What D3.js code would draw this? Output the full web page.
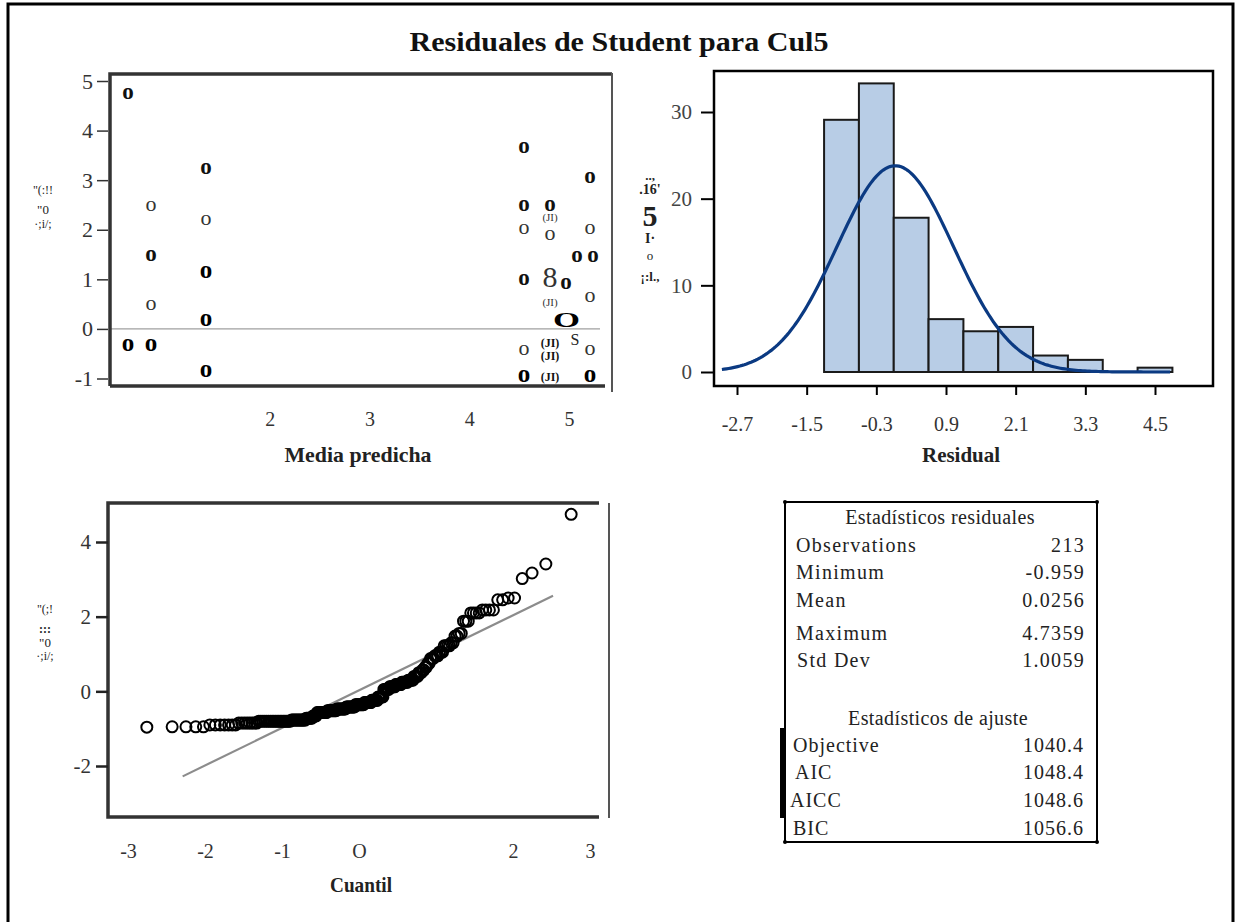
<!DOCTYPE html>
<html><head><meta charset="utf-8">
<script src="https://cdn.jsdelivr.net/npm/d3@7"></script>
<style>
body{margin:0;background:#fff}
svg text{font-family:"Liberation Serif","Times New Roman",serif}
</style></head><body>
<svg id="chart" width="1235" height="922"></svg>
<script>
// ---------------- data ----------------
const chartTitle = "Residuales de Student para Cul5";

// residual vs predicted mean
const predTicks = [2, 3, 4, 5];
const residTicks = [5, 4, 3, 2, 1, 0, -1];
const fitHeavy = [[0.58,4.74],[0.81,1.47],[1.36,3.22],[4.55,3.65],[4.55,2.48],[4.81,2.48],[4.55,0.98],[4.97,0.90],
  [5.08,1.45],[5.24,1.45],[5.21,3.04]];
const fitBlack = [[0.58,-0.32],[0.81,-0.32],[1.36,1.14],[1.36,0.18],[1.36,-0.85],[4.55,-0.94],[5.21,-0.94]];
const fitLight = [[0.81,2.48],[0.81,0.49],[1.36,2.19],[4.55,2.02],[4.81,1.90],[5.21,2.02],[5.21,0.64],[4.55,-0.42],[5.21,-0.42]];
const fitStacked = [[4.81,1.05,"8"]];
const fitWide = [[4.97,0.18,"O"]];
const fitTags = [[4.81,2.25,"(JI)"],[4.81,0.55,"(JI)"]];
const fitTagsBold = [[4.81,-0.26,"(JI)"],[4.81,-0.53,"(JI)"],[4.81,-0.94,"(JI)"]];
const fitTagsSans = [[5.06,-0.2,"S"]];
const residAxisGlyphs = ['"(:!!', '"0', '·;i/;'];

// histogram of residuals (percent per bin)
const binEdges = [-1.2,-0.6,0,0.6,1.2,1.8,2.4,3.0,3.6,4.2,4.8];
const binPercent = [29.1,33.3,17.8,6.1,4.7,5.2,1.9,1.4,0,0.5];
const histTicks = [-2.7,-1.5,-0.3,0.9,2.1,3.3,4.5];
const pctTicks = [0,10,20,30];
const curveRange = [-2.96, 4.76];
const pctAxisGlyphs = ["..,", ".16'", "5", "I·", "o", "¡:l.,"];

// summary tables
const residStatNames = ["Observations","Minimum","Mean","Maximum","Std Dev"];
const residStatValues = ["213","-0.959","0.0256","4.7359","1.0059"];
const fitStatNames = ["Objective","AIC","AICC","BIC"];
const fitStatValues = ["1040.4","1048.4","1048.6","1056.6"];

// sorted residuals for the normal quantile plot: [value, count]
const qqRuns = [[-0.959,1],[-0.95,4],[-0.90,7],[-0.85,8],[-0.80,20],[-0.77,12],[-0.72,6],[-0.66,4],
  [-0.57,10],[-0.52,10],[-0.47,10],[-0.42,10],[-0.36,10],[-0.30,8],[-0.24,7],[-0.15,6],
  [0.05,6],[0.12,6],[0.18,6],[0.24,6],[0.30,5],[0.40,4],[0.50,3],[0.57,2],
  [0.65,2],[0.75,2],[0.88,3],[0.95,3],[1.05,3],
  [1.22,4],[1.30,2],[1.48,2],[1.55,2],
  [1.88,3],[2.10,4],[2.18,4],
  [2.45,2],[2.50,2],[3.02,1],[3.17,1],[3.41,1],[4.74,1]];
const qqTicksY = [4, 2, 0, -2];
const qqTicksX = [-3, -2, -1, 0, 2, 3];
const qqTickLabels = ["-3","-2","-1","O","2","3"];
const qqAxisGlyphs = ['"(;!', ':::', '"0', '·;i/;'];

// ---------------- drawing ----------------
const svg = d3.select("#chart");
const meanRes = +residStatValues[2], sdRes = +residStatValues[4];
const plain = d => String(d);   // tick text with an ASCII hyphen for negatives

// outer frame
svg.append("path").attr("d","M8,922V4H1233V922").attr("fill","none").attr("stroke","#000").attr("stroke-width",3);

svg.append("text").attr("x",619).attr("y",51).attr("text-anchor","middle")
  .attr("font-size",27).attr("font-weight","bold").attr("fill","#111")
  .attr("textLength",419).attr("lengthAdjust","spacingAndGlyphs").text(chartTitle);

function glyphColumn(list, x, ys, size, weights){
  list.forEach((t,i)=>svg.append("text").attr("x",x).attr("y",ys[i]).attr("text-anchor","middle")
    .attr("font-size",size[i]).attr("font-weight",weights[i]).attr("fill","#222").text(t));
}

// ---------- panel 1: residual vs predicted ----------
{
  const x = d3.scaleLinear().domain([1,5]).range([170,569]);
  const y = d3.scaleLinear().domain([-1,5]).range([378.5,81]);
  const g = svg.append("g");
  g.append("line").attr("x1",110).attr("x2",600).attr("y1",y(0)).attr("y2",y(0)).attr("stroke","#888").attr("stroke-width",1);
  // frame
  g.append("path").attr("d","M110,386V74H612").attr("fill","none").attr("stroke","#333").attr("stroke-width",3.5);
  g.append("line").attr("x1",110).attr("x2",605).attr("y1",386).attr("y2",386).attr("stroke","#333").attr("stroke-width",3.5);
  g.append("line").attr("x1",612).attr("x2",612).attr("y1",73).attr("y2",392).attr("stroke","#555").attr("stroke-width",2);

  const ya = g.append("g").attr("transform","translate(108,0)")
    .call(d3.axisLeft(y).tickValues(residTicks).tickSize(11).tickPadding(4).tickFormat(plain));
  ya.select(".domain").remove();
  ya.selectAll("line").attr("stroke","#333").attr("stroke-width",1.5);
  ya.selectAll("text").attr("font-size",22).attr("fill","#333").attr("font-family","Liberation Serif");

  const xa = g.append("g").attr("transform","translate(0,409)")
    .call(d3.axisBottom(x).tickValues(predTicks).tickSize(0).tickFormat(plain));
  xa.select(".domain").remove();
  xa.selectAll("text").attr("font-size",20).attr("fill","#333").attr("font-family","Liberation Serif");

  g.append("text").attr("x",358).attr("y",462).attr("text-anchor","middle").attr("font-size",21)
    .attr("font-weight","bold").attr("fill","#222").attr("textLength",147).attr("lengthAdjust","spacingAndGlyphs").text("Media predicha");

  glyphColumn(residAxisGlyphs, 43, [194,214,228], [12,13,12], ["normal","normal","normal"]);

  g.selectAll(".hv").data(fitHeavy).join("text").attr("x",d=>x(d[0])).attr("y",d=>y(d[1])+5)
    .attr("text-anchor","middle").attr("font-size",23).attr("font-weight","bold").attr("fill","#111").text("o");
  g.selectAll(".bk").data(fitBlack).join("text").attr("x",d=>x(d[0])).attr("y",d=>y(d[1])+6)
    .attr("text-anchor","middle").attr("font-size",25).attr("font-weight","bold").attr("fill","#000").text("o");
  g.selectAll(".lt").data(fitLight).join("text").attr("x",d=>x(d[0])).attr("y",d=>y(d[1])+5)
    .attr("text-anchor","middle").attr("font-size",22).attr("fill","#333").text("o");
  g.selectAll(".st").data(fitStacked).join("text").attr("x",d=>x(d[0])).attr("y",d=>y(d[1])+10)
    .attr("text-anchor","middle").attr("font-size",30).attr("fill","#333").text(d=>d[2]);
  g.selectAll(".wd").data(fitWide).join("text").attr("x",d=>x(d[0])-13).attr("y",d=>y(d[1])+7)
    .attr("font-size",20).attr("font-weight","bold").attr("fill","#000")
    .attr("textLength",27).attr("lengthAdjust","spacingAndGlyphs").text(d=>d[2]);
  g.selectAll(".tg").data(fitTags).join("text").attr("x",d=>x(d[0])).attr("y",d=>y(d[1])+4)
    .attr("text-anchor","middle").attr("font-size",11).attr("fill","#333").text(d=>d[2]);
  g.selectAll(".tb").data(fitTagsBold).join("text").attr("x",d=>x(d[0])).attr("y",d=>y(d[1])+5)
    .attr("text-anchor","middle").attr("font-size",12).attr("font-weight","bold")
    .attr("font-family","Liberation Sans").attr("fill","#111").text(d=>d[2]);
  g.selectAll(".ts").data(fitTagsSans).join("text").attr("x",d=>x(d[0])).attr("y",d=>y(d[1])+6)
    .attr("text-anchor","middle").attr("font-size",16)
    .attr("font-family","Liberation Sans").attr("fill","#222").text(d=>d[2]);
}

// ---------- panel 2: histogram ----------
{
  const x = d3.scaleLinear().domain([-2.7,4.5]).range([737,1155]);
  const y = d3.scaleLinear().domain([0,30]).range([372,112]);
  const g = svg.append("g");
  const bins = binPercent.map((p,i)=>({x0:binEdges[i],x1:binEdges[i+1],p})).filter(b=>b.p>0);
  g.selectAll("rect").data(bins).join("rect")
    .attr("x",d=>x(d.x0)).attr("width",d=>x(d.x1)-x(d.x0))
    .attr("y",d=>y(d.p)).attr("height",d=>y(0)-y(d.p))
    .attr("fill","#b8cde6").attr("stroke","#1a1a1a").attr("stroke-width",2);

  const binW = binEdges[1]-binEdges[0];
  const pts = d3.range(0,201).map(i=>{
    const v = curveRange[0] + (curveRange[1]-curveRange[0])*i/200;
    const z = (v-meanRes)/sdRes;
    return [v, 100*binW*Math.exp(-z*z/2)/(sdRes*Math.sqrt(2*Math.PI))];
  });
  g.append("path").datum(pts).attr("d",d3.line().x(d=>x(d[0])).y(d=>y(d[1])))
    .attr("fill","none").attr("stroke","#0b3a82").attr("stroke-width",3.2);

  g.append("rect").attr("x",714).attr("y",71).attr("width",499).attr("height",315)
    .attr("fill","none").attr("stroke","#000").attr("stroke-width",2.5);

  const ya = g.append("g").attr("transform","translate(714,0)")
    .call(d3.axisLeft(y).tickValues(pctTicks).tickSize(13).tickPadding(9));
  ya.select(".domain").remove();
  ya.selectAll("line").attr("stroke","#000").attr("stroke-width",2);
  ya.selectAll("text").attr("font-size",21).attr("fill","#444").attr("font-family","Liberation Serif");

  const xa = g.append("g").attr("transform","translate(0,386)")
    .call(d3.axisBottom(x).tickValues(histTicks).tickSize(9).tickPadding(22).tickFormat(d=>d.toFixed(1)));
  xa.select(".domain").remove();
  xa.selectAll("line").attr("stroke","#000").attr("stroke-width",2);
  xa.selectAll("text").attr("font-size",20).attr("fill","#333").attr("font-family","Liberation Serif");

  g.append("text").attr("x",961).attr("y",462).attr("text-anchor","middle").attr("font-size",21)
    .attr("font-weight","bold").attr("fill","#222").attr("textLength",78).attr("lengthAdjust","spacingAndGlyphs").text("Residual");

  glyphColumn(pctAxisGlyphs, 650, [180,194,226,243,260,281], [13,14,30,14,13,13],
    ["bold","bold","bold","bold","normal","bold"]);
}

// ---------- panel 3: stats table ----------
{
  const g = svg.append("g");
  g.append("rect").attr("x",785).attr("y",502).attr("width",312).attr("height",340)
    .attr("fill","none").attr("stroke","#000").attr("stroke-width",2);
  [[785,502],[1097,502],[785,842],[1097,842]].forEach(c=>g.append("circle").attr("cx",c[0]).attr("cy",c[1]).attr("r",2).attr("fill","#000"));
  g.append("rect").attr("x",780).attr("y",728).attr("width",4).attr("height",90).attr("fill","#000");

  const T = (x,y,t,anchor,ls)=>g.append("text").attr("x",x).attr("y",y).attr("text-anchor",anchor)
    .attr("font-size",20).attr("letter-spacing",ls).attr("fill","#222").text(t);
  T(940,524,"Estadísticos residuales","middle",0.4);
  const ry = [552,579,607,640,667], rx = [796,796,796,796,797];
  residStatNames.forEach((n,i)=>{ T(rx[i],ry[i],n,"start",1.3); T(1085,ry[i],residStatValues[i],"end",1.3); });
  T(938,725,"Estadísticos de ajuste","middle",0.4);
  const fy = [752,779,807,835], fx = [793,795,790,793];
  fitStatNames.forEach((n,i)=>{ T(fx[i],fy[i],n,"start",1.0); T(1084,fy[i],fitStatValues[i],"end",1.0); });
}

// ---------- panel 4: normal quantile plot ----------
{
  // inverse standard normal CDF (Acklam)
  function qnorm(p){
    const a=[-39.6968302866538,220.946098424521,-275.928510446969,138.357751867269,-30.6647980661472,2.50662827745924];
    const b=[-54.4760987982241,161.585836858041,-155.698979859887,66.8013118877197,-13.2806815528857];
    const c=[-0.00778489400243029,-0.322396458041136,-2.40075827716184,-2.54973253934373,4.37466414146497,2.93816398269878];
    const d=[0.00778469570904146,0.32246712907004,2.445134137143,3.75440866190742];
    const pl=0.02425;
    if(p<pl){const q=Math.sqrt(-2*Math.log(p));return (((((c[0]*q+c[1])*q+c[2])*q+c[3])*q+c[4])*q+c[5])/((((d[0]*q+d[1])*q+d[2])*q+d[3])*q+1);}
    if(p>1-pl){const q=Math.sqrt(-2*Math.log(1-p));return -(((((c[0]*q+c[1])*q+c[2])*q+c[3])*q+c[4])*q+c[5])/((((d[0]*q+d[1])*q+d[2])*q+d[3])*q+1);}
    const q=p-0.5,r=q*q;
    return (((((a[0]*r+a[1])*r+a[2])*r+a[3])*r+a[4])*r+a[5])*q/(((((b[0]*r+b[1])*r+b[2])*r+b[3])*r+b[4])*r+1);
  }
  const sorted = qqRuns.flatMap(([v,n])=>d3.range(n).map(()=>v));
  const n = sorted.length;
  const pts = sorted.map((v,i)=>[qnorm((i+1-0.375)/(n+0.25)), v]);

  const x = d3.scaleLinear().domain([-3,3]).range([128,590]);
  const y = d3.scaleLinear().domain([-2,4]).range([766,542]);
  const g = svg.append("g");

  g.append("path").attr("d","M599,503H108V817H599").attr("fill","none").attr("stroke","#333").attr("stroke-width",3.5);
  g.append("line").attr("x1",609).attr("x2",609).attr("y1",503).attr("y2",818).attr("stroke","#555").attr("stroke-width",2);

  const ql = [-2.29, 2.52];
  g.append("line").attr("x1",x(ql[0])).attr("y1",y(meanRes+sdRes*ql[0]))
    .attr("x2",x(ql[1])).attr("y2",y(meanRes+sdRes*ql[1])).attr("stroke","#8c8c8c").attr("stroke-width",2.2);

  g.selectAll("circle").data(pts).join("circle").attr("cx",d=>x(d[0])).attr("cy",d=>y(d[1])).attr("r",5.5)
    .attr("fill","none").attr("stroke","#000").attr("stroke-width",2);

  const ya = g.append("g").attr("transform","translate(108,0)")
    .call(d3.axisLeft(y).tickValues(qqTicksY).tickSize(12).tickPadding(5).tickFormat(plain));
  ya.select(".domain").remove();
  ya.selectAll("line").attr("stroke","#222").attr("stroke-width",2.5);
  ya.selectAll("text").attr("font-size",21).attr("fill","#333").attr("font-family","Liberation Serif");

  const xa = g.append("g").attr("transform","translate(0,841)")
    .call(d3.axisBottom(x).tickValues(qqTicksX).tickSize(0).tickFormat((d,i)=>qqTickLabels[i]));
  xa.select(".domain").remove();
  xa.selectAll("text").attr("font-size",20).attr("fill","#333").attr("font-family","Liberation Serif");

  g.append("text").attr("x",361).attr("y",892).attr("text-anchor","middle").attr("font-size",21)
    .attr("font-weight","bold").attr("fill","#222").attr("textLength",62).attr("lengthAdjust","spacingAndGlyphs").text("Cuantil");

  glyphColumn(qqAxisGlyphs, 45, [613,633,647,660], [12,12,13,12], ["normal","bold","normal","normal"]);
}
</script>
</body></html>
